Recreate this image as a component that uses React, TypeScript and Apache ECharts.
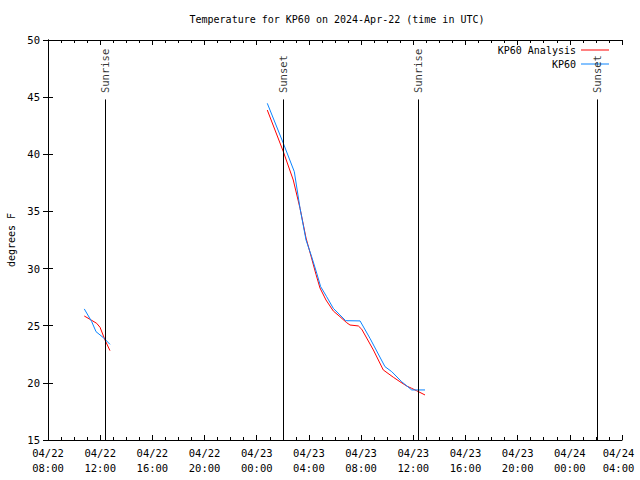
import React, { useEffect, useRef } from "react";
import * as echarts from "echarts";

// Hours since 2024-04-22 08:00 UTC
const tickLabels = [
  "04/22\n08:00", "04/22\n12:00", "04/22\n16:00", "04/22\n20:00",
  "04/23\n00:00", "04/23\n04:00", "04/23\n08:00", "04/23\n12:00",
  "04/23\n16:00", "04/23\n20:00", "04/24\n00:00", "04/24\n04:00",
];

// KP60 observations (two segments)
const obsHours1 = [2.78, 3.35, 3.68, 4.24, 4.75];
const obsTemps1 = [26.47, 25.36, 24.48, 23.96, 23.37];
const obsHours2 = [16.81, 18.04, 18.88, 19.32, 19.78, 20.21, 20.6, 20.9, 21.36, 21.87, 22.38, 22.82, 23.92, 24.68, 25.83, 26.35, 27.11, 27.88, 28.9];
const obsTemps2 = [44.46, 40.96, 38.48, 35.27, 32.5, 31.04, 29.59, 28.42, 27.54, 26.52, 25.94, 25.44, 25.42, 23.9, 21.42, 20.98, 20.1, 19.38, 19.38];

// KP60 Analysis (two segments)
const anaHours1 = [2.78, 3.22, 3.73, 3.99, 4.37, 4.75];
const anaTemps1 = [25.85, 25.56, 25.21, 24.86, 23.75, 22.82];
const anaHours2 = [16.81, 18.04, 18.8, 19.32, 19.78, 20.16, 20.54, 20.85, 21.31, 21.87, 22.38, 22.9, 23.15, 23.79, 24.05, 24.94, 25.7, 26.47, 26.98, 27.5, 27.88, 28.26, 28.9];
const anaTemps2 = [43.87, 40.23, 37.75, 35.27, 32.67, 31.1, 29.5, 28.3, 27.25, 26.29, 25.79, 25.26, 25.06, 24.98, 24.69, 22.88, 21.13, 20.49, 20.1, 19.72, 19.52, 19.31, 18.94];

// Sun events
const sunHours = [4.37, 18.01, 28.36, 42.09];
const sunLabels = ["Sunrise", "Sunset", "Sunrise", "Sunset"];

const FONT = "DejaVu Sans Mono";
const RED = "#ff0000";
const BLUE = "#0a84ff";

function pairs(h: number[], v: number[]) {
  return h.map((x, i) => [x, v[i]]);
}

export default function App() {
  const ref = useRef<HTMLDivElement>(null);
  useEffect(() => {
    if (!ref.current) return;
    const chart = echarts.init(ref.current, undefined, { renderer: "svg" });
    const obsData = [...pairs(obsHours1, obsTemps1), [null, null], ...pairs(obsHours2, obsTemps2)];
    const anaData = [...pairs(anaHours1, anaTemps1), [null, null], ...pairs(anaHours2, anaTemps2)];
    const axisLineStyle = { color: "#000", width: 1 };
    const baseX = {
      type: "value" as const,
      min: 0,
      max: 44,
      interval: 4,
      axisLine: { show: true, lineStyle: axisLineStyle },
      axisTick: { show: true, inside: true, length: 5, lineStyle: axisLineStyle },
      minorTick: { show: true, splitNumber: 4, length: 3, lineStyle: axisLineStyle },
      splitLine: { show: false },
    };
    const baseY = {
      type: "value" as const,
      min: 15,
      max: 50,
      interval: 5,
      axisLine: { show: true, lineStyle: axisLineStyle },
      axisTick: { show: true, inside: true, length: 5, lineStyle: axisLineStyle },
      minorTick: { show: false },
      splitLine: { show: false },
    };
    const lastIdx = tickLabels.length - 1;
    chart.setOption({
      animation: false,
      backgroundColor: "#fff",
      textStyle: { fontFamily: FONT },
      title: {
        text: "Temperature for KP60 on 2024-Apr-22 (time in UTC)",
        left: 332,
        textAlign: "center",
        top: 9,
        textStyle: { fontFamily: FONT, fontSize: 10, fontWeight: "normal", color: "#000" },
      },
      legend: {
        data: [
          { name: "KP60 Analysis", icon: "rect" },
          { name: "KP60", icon: "rect" },
        ],
        orient: "vertical",
        right: 26,
        top: 39,
        align: "right",
        itemWidth: 28,
        itemHeight: 1,
        itemGap: 2,
        textStyle: { fontFamily: FONT, fontSize: 10, color: "#000", lineHeight: 12 },
      },
      grid: { left: 48, right: 18, top: 40, bottom: 40, containLabel: false, outerBoundsMode: "none" },
      xAxis: [
        {
          ...baseX,
          position: "bottom",
          axisLabel: {
            show: true,
            margin: 5,
            fontFamily: FONT,
            fontSize: 10.5,
            lineHeight: 15,
            color: "#000",
            showMinLabel: true,
            showMaxLabel: true,
            formatter: (val: number) => {
              const i = Math.round(val / 4);
              const s = tickLabels[i] ?? "";
              if (i === lastIdx) return s.split("\n").map((p) => `{last|${p}}`).join("\n");
              return s;
            },
            rich: {
              last: { fontFamily: FONT, fontSize: 10.5, lineHeight: 15, color: "#000", padding: [0, 7, 0, 0] },
            },
          },
        },
        { ...baseX, position: "top", axisLabel: { show: false } },
      ],
      yAxis: [
        {
          ...baseY,
          position: "left",
          name: "degrees F",
          nameLocation: "middle",
          nameGap: 30,
          nameTextStyle: { fontFamily: FONT, fontSize: 10, color: "#000" },
          axisLabel: { show: true, margin: 8, fontFamily: FONT, fontSize: 10.5, color: "#000" },
        },
        { ...baseY, position: "right", axisLabel: { show: false } },
      ],
      series: [
        {
          name: "KP60 Analysis",
          type: "line",
          data: anaData,
          showSymbol: false,
          symbol: "none",
          connectNulls: false,
          lineStyle: { color: RED, width: 1 },
          itemStyle: { color: RED },
          z: 3,
        },
        {
          name: "KP60",
          type: "line",
          data: obsData,
          showSymbol: false,
          symbol: "none",
          connectNulls: false,
          lineStyle: { color: BLUE, width: 1 },
          itemStyle: { color: BLUE },
          z: 4,
        },
        {
          name: "sun",
          type: "line",
          data: [],
          markLine: {
            silent: true,
            symbol: ["none", "none"],
            label: { show: false },
            lineStyle: { color: "#000", width: 1, type: "solid" },
            data: sunHours.map((t) => [
              { coord: [t, 15] },
              { coord: [t, 44.8] },
            ]),
          },
        },
        {
          name: "sunLabels",
          type: "scatter",
          symbolSize: 1,
          itemStyle: { color: "rgba(0,0,0,0)" },
          data: sunHours.map((t) => [t, 45.36]),
          label: {
            show: true,
            position: "inside",
            rotate: 90,
            align: "left",
            verticalAlign: "middle",
            fontFamily: FONT,
            fontSize: 10.5,
            color: "#000",
            formatter: (p: any) => sunLabels[p.dataIndex],
          },
          z: 5,
        },
      ],
    });
    return () => chart.dispose();
  }, []);
  return <div ref={ref} style={{ position: "absolute", left: 0, top: 0, width: 640, height: 480 }} />;
}
